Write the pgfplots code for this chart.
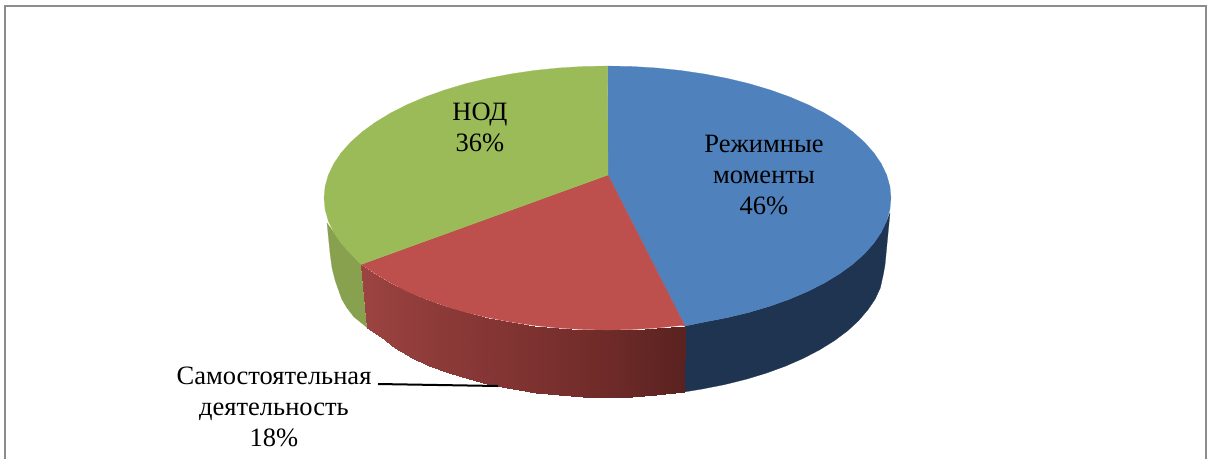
\documentclass[border=0pt]{standalone}
\usepackage{fontspec}
\setmainfont{Liberation Serif}
\usepackage{pgfplots}
\pgfplotsset{compat=1.18}
\definecolor{pieblue}{HTML}{4F81BD}
\definecolor{piered}{HTML}{BD4F4C}
\definecolor{piegreen}{HTML}{9BBB59}
\definecolor{sideblue}{HTML}{1F3450}
\definecolor{sidegreen}{HTML}{87A14F}
\definecolor{framegray}{HTML}{8C8C8C}
\tikzset{lab/.style={font=\fontsize{26.5}{31}\selectfont, align=center, text=black}}

\begin{document}
\begin{tikzpicture}
\useasboundingbox (0,0) rectangle (1207pt,459pt);
\begin{axis}[
  at={(0,0)}, anchor=south west,
  scale only axis,
  width=1207pt, height=459pt,
  xmin=0, xmax=1207, ymin=0, ymax=459,
  y dir=reverse,
  hide axis,
  colormap={redside}{rgb255=(156,68,66) rgb255=(140,58,56) rgb255=(127,51,49) rgb255=(111,43,41) rgb255=(90,34,32)},
  point meta min=361, point meta max=685,
]
% frame, cut off at the bottom
\addplot[framegray, line width=2pt] coordinates {(5,459) (5,5.5) (1206,5.5) (1206,459)};

% side of the blue slice
\addplot[sideblue, fill=sideblue, line width=0.2pt] coordinates {
  (890,213) (886.7,220.9) (881.3,232.2) (873.9,243.1) (864.4,253.8) (853,264) (839.7,273.7)
  (824.7,282.8) (808,291.3) (789.7,299.1) (770.1,306.1) (749.3,312.3) (727.3,317.6) (704.5,322)
  (685,326) (684,392) (702.2,389) (724.6,384.6) (746,379.3) (766.4,373.1) (785.6,366.1)
  (803.4,358.3) (819.7,349.8) (834.4,340.7) (847.4,331) (858.5,320.8) (867.8,309.9) (875.1,299.2)
  (880.3,287.9) (883.4,274) (885,265)
} -- cycle;

% side of the green slice
\addplot[sidegreen, fill=sidegreen, line width=0.2pt] coordinates {
  (361,264.5) (350.6,253.8) (341.1,243.1) (333.7,232.2) (327,223)
  (330,253) (332,268) (335,280) (341.7,299) (347,308) (354,317) (367,327.5)
} -- cycle;

% side of the red slice, shaded along x
\addplot[surf, shader=interp, mesh/cols=2, point meta=x] table {
x y
685 326
684 392
656.7 328
655.6 395
632.2 329.5
631.6 396.5
607.5 330
607.5 397
582.8 329.5
583.4 396.5
558.3 328
559.4 395
534.1 325.5
535.8 392.5
510.5 322
512.8 389
487.7 317.6
490.4 384.6
465.7 312.3
469 379.3
444.9 306.1
448.6 373.1
425.3 299.1
429.4 365.5
407 291.3
411.6 357.5
390.3 282.8
395.3 347.5
375.3 273.7
380.6 337
361 264.5
367 327.5
};

% top face: blue
\addplot[pieblue, fill=pieblue, line width=0.2pt] coordinates {
  (608,175) (607.5,66) (632.2,66.5) (656.7,68) (680.9,70.5) (704.5,74) (727.3,78.4) (749.3,83.7)
  (770.1,89.9) (789.7,96.9) (808,104.7) (824.7,113.2) (839.7,122.3) (853,132) (864.4,142.2)
  (873.9,152.9) (881.3,163.8) (886.7,175.1) (889.9,186.5) (891,198) (889.9,209.5) (886.7,220.9)
  (881.3,232.2) (873.9,243.1) (864.4,253.8) (853,264) (839.7,273.7) (824.7,282.8) (808,291.3)
  (789.7,299.1) (770.1,306.1) (749.3,312.3) (727.3,317.6) (704.5,322) (685,326)
} -- cycle;

% top face: red
\addplot[piered, fill=piered, line width=0.2pt] coordinates {
  (608,175) (685,326) (680.9,325.5) (656.7,328) (632.2,329.5) (607.5,330) (582.8,329.5) (558.3,328)
  (534.1,325.5) (510.5,322) (487.7,317.6) (465.7,312.3) (444.9,306.1) (425.3,299.1) (407,291.3)
  (390.3,282.8) (375.3,273.7) (361,264.5)
} -- cycle;

% top face: green
\addplot[piegreen, fill=piegreen, line width=0.2pt] coordinates {
  (608,175) (361,264.5) (350.6,253.8) (341.1,243.1) (333.7,232.2) (328.3,220.9) (325.1,209.5)
  (324,198) (325.1,186.5) (328.3,175.1) (333.7,163.8) (341.1,152.9) (350.6,142.2) (362,132)
  (375.3,122.3) (390.3,113.2) (407,104.7) (425.3,96.9) (444.9,89.9) (465.7,83.7) (487.7,78.4)
  (510.5,74) (534.1,70.5) (558.3,68) (582.8,66.5) (607.5,66)
} -- cycle;

% leader line
\addplot[black, line width=2pt] coordinates {(378,384) (498,386)};

\node[lab] at (axis cs:764,175) {Режимные\\моменты\\46\%};
\node[lab] at (axis cs:480,127) {НОД\\36\%};
\node[lab] at (axis cs:274,407) {Самостоятельная\\деятельность\\18\%};
\end{axis}
\end{tikzpicture}
\end{document}
